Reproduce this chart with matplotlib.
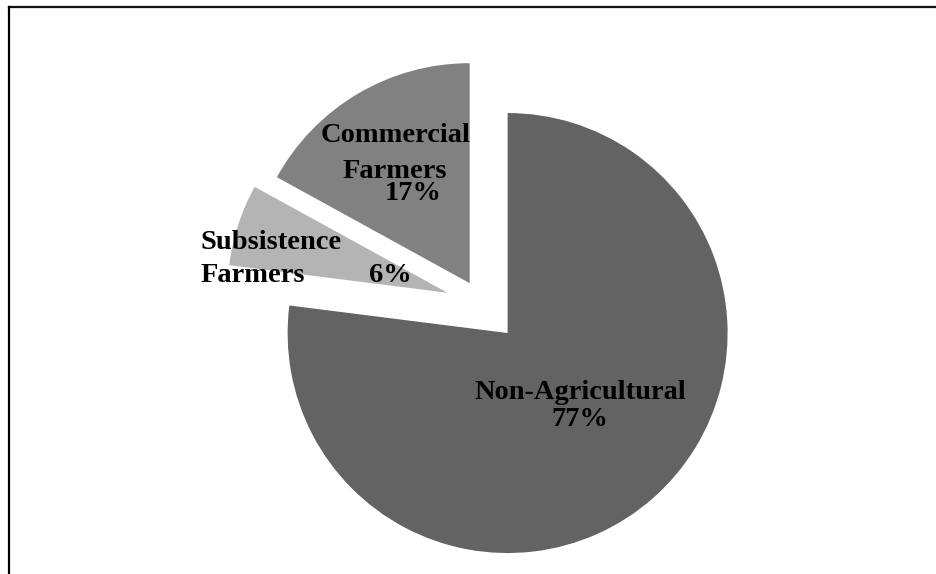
import matplotlib.pyplot as plt
from matplotlib.lines import Line2D

categories = ['Non-Agricultural', 'Subsistence\nFarmers', 'Commercial\nFarmers']
shares = [77, 6, 17]
pct_labels = ['77%', '6%', '17%']
colors = ['#636363', '#b4b4b4', '#818181']
explode = [0.176, 0.165, 0.11]

W, H = 937, 574
fig = plt.figure(figsize=(W / 100, H / 100), dpi=100)
ax = fig.add_axes([0, 0, 1, 1])

# pie centre (before explode) and radius in pixels
cx, cy, r = 482, 304, 220

ax.pie(shares, colors=colors, explode=explode, startangle=90,
       counterclock=False, radius=1, center=(0, 0),
       wedgeprops=dict(linewidth=0))
ax.set_xlim(-cx / r, (W - cx) / r)
ax.set_ylim(-(H - cy) / r, cy / r)
ax.set_aspect('auto')
ax.axis('off')

font = dict(family='Liberation Serif', weight='bold', fontsize=20.5,
            color='black', va='baseline')


def put(text, px, py, ha='center'):
    fig.text(px / W, 1 - py / H, text, ha=ha, **font)


put('Commercial', 396, 142)
put('Farmers', 395, 178)
put(pct_labels[2], 413, 200)
put('Subsistence', 201, 249, ha='left')
put('Farmers', 201, 282, ha='left')
put(pct_labels[1], 390, 282)
put(categories[0], 580, 399)
put(pct_labels[0], 580, 426)

# frame (only top and left edges visible)
fig.add_artist(Line2D([9 / W, 1], [1 - 7 / H, 1 - 7 / H],
                      transform=fig.transFigure, color='#111111', lw=1.6))
fig.add_artist(Line2D([9 / W, 9 / W], [1 - 7 / H, 0],
                      transform=fig.transFigure, color='black', lw=1.6))

fig.savefig('out.png', dpi=100)
